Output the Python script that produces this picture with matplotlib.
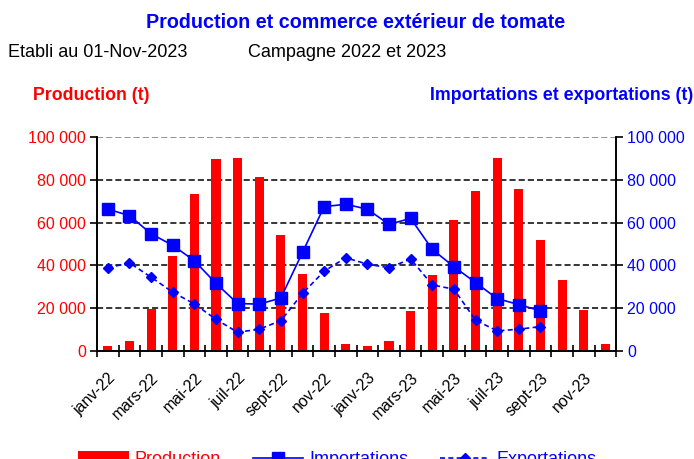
import numpy as np
import matplotlib
matplotlib.use('Agg')
import matplotlib.pyplot as plt
from matplotlib.ticker import FuncFormatter, FixedLocator

plt.rcParams['font.family'] = ['Liberation Sans', 'DejaVu Sans']

# Monthly data, janv-22 .. dec-23 (tonnes)
months = ["janv-22", "févr-22", "mars-22", "avr-22", "mai-22", "juin-22",
          "juil-22", "août-22", "sept-22", "oct-22", "nov-22", "déc-22",
          "janv-23", "févr-23", "mars-23", "avr-23", "mai-23", "juin-23",
          "juil-23", "août-23", "sept-23", "oct-23", "nov-23", "déc-23"]
production = [2300, 4500, 19800, 44400, 73600, 89700, 90300, 81300, 54000,
              36000, 17800, 3100, 2300, 4500, 18600, 35300, 61200, 75000,
              90300, 75800, 52000, 33000, 19400, 3100]
importations = [66300, 63300, 54800, 49400, 42200, 31600, 22200, 21900, 24800,
                46100, 67500, 68600, 66300, 59200, 62000, 47500, 39400, 32000,
                24500, 21700, 18800]
exportations = [38900, 41200, 34500, 27500, 22000, 14800, 8750, 10200, 14200,
                26900, 37300, 43600, 40600, 38900, 43000, 30900, 28900, 14400,
                9400, 10200, 11400]

RED = '#ff0000'
BLUE = '#0000ff'

x = np.arange(len(months))

fig = plt.figure(figsize=(6.94, 4.59), dpi=100)
ax = fig.add_axes([0.1398, 0.2353, 0.748, 0.466])
ax2 = ax.twinx()

bars = ax.bar(x, production, width=0.42, color=RED, zorder=2, label='Production')
l1, = ax2.plot(np.arange(len(importations)), importations, color=BLUE, lw=1.2,
               marker='s', ms=8, label='Importations')
l2, = ax2.plot(np.arange(len(exportations)), exportations, color=BLUE, lw=1.2,
               ls=(0, (3, 2)), marker='D', ms=5, label='Exportations')

for a in (ax, ax2):
    a.set_ylim(0, 100000)
    a.set_xlim(-0.5, len(months) - 0.5)
    a.spines['top'].set_visible(False)
    a.yaxis.set_major_locator(FixedLocator(np.arange(0, 100001, 20000)))
    a.yaxis.set_major_formatter(FuncFormatter(lambda v, p: f"{int(v):,}".replace(',', ' ')))

ax.set_axisbelow(True)
for v in range(20000, 100001, 20000):
    ax.axhline(v, color='black' if v < 100000 else '#777777', lw=1.1,
               ls=(0, (4, 2)), zorder=0)

ax.tick_params(axis='y', colors=RED, labelsize=11.5, length=5, width=1.2, pad=3)
ax.tick_params(axis='y', color='black')
ax2.tick_params(axis='y', colors=BLUE, labelsize=11.5, length=5, width=1.2, pad=3)
ax2.tick_params(axis='y', color='black')
for s in ('left', 'right', 'bottom'):
    ax.spines[s].set_linewidth(1.2)
    ax2.spines[s].set_linewidth(1.2)

# x ticks: marks at month boundaries, labels every other month
ax.set_xticks(np.arange(-0.5, len(months) + 0.5, 1))
ax.set_xticklabels([])
ax.tick_params(axis='x', direction='inout', length=9, width=1.2)
ax.set_xticks(x[::2], minor=True)
ax.set_xticklabels(months[::2], minor=True, rotation=45, ha='right',
                   rotation_mode='anchor', fontsize=11.5)
ax.tick_params(axis='x', which='minor', length=0, pad=14)

fig.text(0.512, 0.952, "Production et commerce extérieur de tomate",
         ha='center', va='center', color=BLUE, fontsize=14.2, fontweight='bold')
fig.text(0.012, 0.886, "Etabli au 01-Nov-2023", ha='left', va='center', fontsize=13)
fig.text(0.357, 0.886, "Campagne 2022 et 2023", ha='left', va='center', fontsize=13)
fig.text(0.048, 0.793, "Production (t)", ha='left', va='center', color=RED,
         fontsize=12.8, fontweight='bold')
fig.text(0.999, 0.793, "Importations et exportations (t)", ha='right', va='center',
         color=BLUE, fontsize=12.8, fontweight='bold')

leg = fig.legend([bars, l1, l2], ['Production', 'Importations', 'Exportations'],
                 loc='center', bbox_to_anchor=(0.486, -0.001), ncol=3, frameon=False,
                 fontsize=13, handlelength=2.8, columnspacing=1.75,
                 handletextpad=0.33, borderpad=0)
for t, c in zip(leg.get_texts(), [RED, BLUE, BLUE]):
    t.set_color(c)

fig.savefig('out.png', dpi=100)
